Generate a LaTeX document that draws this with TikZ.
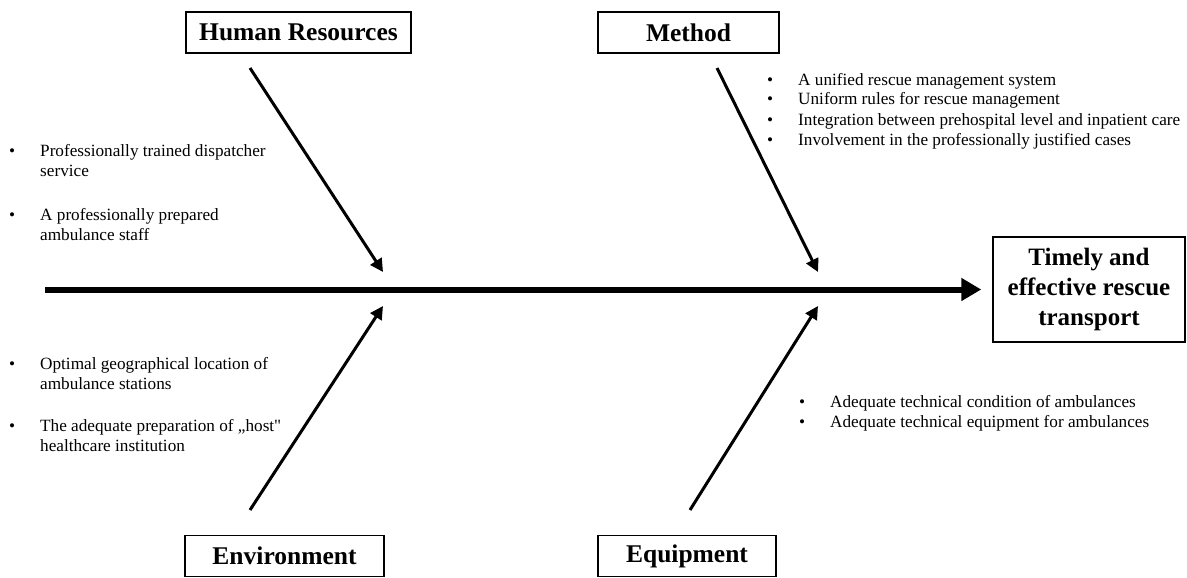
\documentclass[tikz,border=0pt]{standalone}
\usepackage{fontspec}
\setmainfont{Liberation Serif}
\newfontfamily\plainquote{Liberation Serif}
\usetikzlibrary{arrows.meta,positioning}

\newcommand{\bul}{\makebox[31pt][l]{\textbullet}}

\begin{document}
\begin{tikzpicture}[x=1pt, y=-1pt, >=Triangle,
  catbox/.style={draw, line width=1.5pt, minimum height=41pt, inner sep=2pt,
    font=\bfseries\fontsize{25.5pt}{30pt}\selectfont},
  goalbox/.style={draw, line width=1.5pt, minimum width=192pt, minimum height=105pt,
    align=center, inner sep=2pt, font=\bfseries\fontsize{25pt}{30pt}\selectfont},
  spine/.style={line width=6pt, -{Triangle[length=20pt, width=22pt]}},
  bone/.style={line width=3pt, -{Triangle[length=13pt, width=13pt]}},
  bullets/.style={anchor=base west, inner sep=0pt, font=\fontsize{17.2pt}{20pt}\selectfont}]

\useasboundingbox (0,0) rectangle (1187,578);

% ==================== CATEGORIES ====================
\node[catbox, minimum width=225pt] (hr) at (298.5,32.5) {Human Resources};
\node[catbox, minimum width=181pt] (method) at (688.5,32.5) {Method};
\node[catbox, minimum width=199pt] (env) at (284.5,556) {Environment};
\node[catbox, minimum width=178pt] (equip) at (687,556) {Equipment};

% ==================== EFFECT ====================
\node[goalbox] (goal) at (1089,289.5) {Timely and\\effective rescue\\transport};

% Spine
\coordinate (tail) at (45,289.5);
\draw[spine] (tail) -- ([xshift=-11pt]goal.west);

% ==================== BONES ====================
% Human Resources
\coordinate (hrA) at (250,68);
\coordinate (hrB) at (383,272);
\draw[bone] (hrA) -- (hrB);

% Method
\coordinate (methodA) at (717,68);
\coordinate (methodB) at (818,272);
\draw[bone] (methodA) -- (methodB);

% Environment
\coordinate (envA) at (250,510);
\coordinate (envB) at (383,306);
\draw[bone] (envA) -- (envB);

% Equipment
\coordinate (equipA) at (690,510);
\coordinate (equipB) at (818,306);
\draw[bone] (equipA) -- (equipB);

% ==================== CAUSES ====================
\node[bullets] (hrlist) at (9,157) {\begin{tabular}[t]{@{}l@{}l@{}}
  \bul & Professionally trained dispatcher\\
       & service\\[24pt]
  \bul & A professionally prepared\\
       & ambulance staff
\end{tabular}};

\node[bullets] (methodlist) at (767,85) {\begin{tabular}[t]{@{}l@{}l@{}}
  \bul & A unified rescue management system\\
  \bul & Uniform rules for rescue management\\
  \bul & Integration between prehospital level and inpatient care\\
  \bul & Involvement in the professionally justified cases
\end{tabular}};

\node[bullets] (envlist) at (9,369) {\begin{tabular}[t]{@{}l@{}l@{}}
  \bul & Optimal geographical location of\\
       & ambulance stations\\[22pt]
  \bul & The adequate preparation of „host{\plainquote"}\\
       & healthcare institution
\end{tabular}};

\node[bullets] (equiplist) at (799,407) {\begin{tabular}[t]{@{}l@{}l@{}}
  \bul & Adequate technical condition of ambulances\\
  \bul & Adequate technical equipment for ambulances
\end{tabular}};

\end{tikzpicture}
\end{document}
